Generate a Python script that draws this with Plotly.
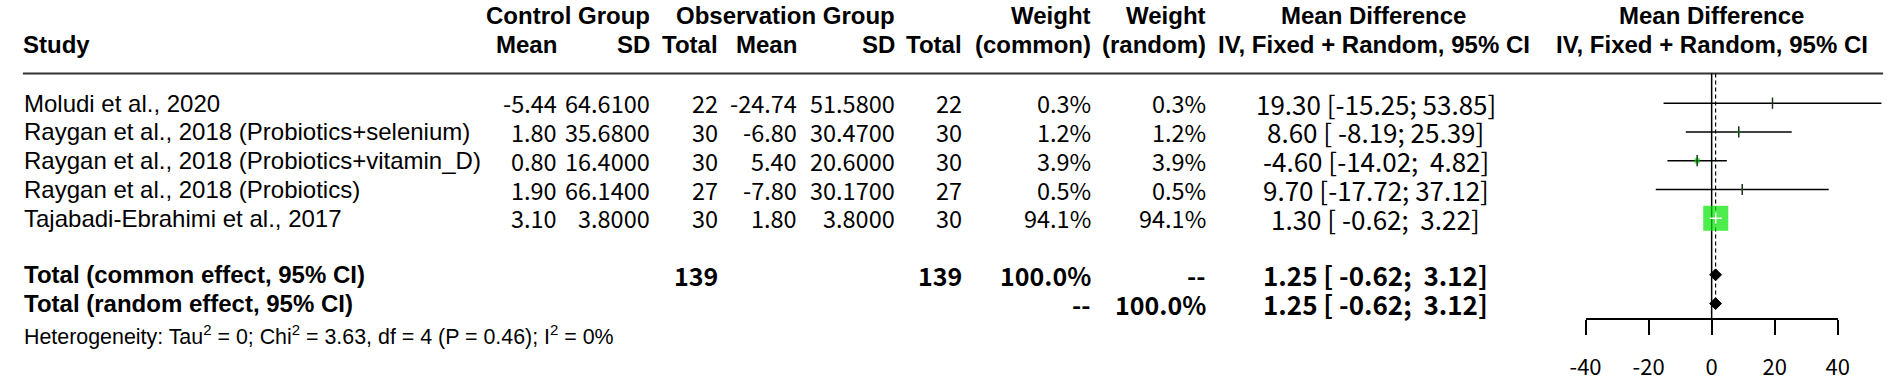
import math
import plotly.graph_objects as go

# ---------------- data ----------------
studies = ["Moludi et al., 2020",
           "Raygan et al., 2018 (Probiotics+selenium)",
           "Raygan et al., 2018 (Probiotics+vitamin_D)",
           "Raygan et al., 2018 (Probiotics)",
           "Tajabadi-Ebrahimi et al., 2017"]
ctrl_mean = [-5.44, 1.80, 0.80, 1.90, 3.10]
ctrl_sd = [64.61, 35.68, 16.40, 66.14, 3.80]
ctrl_n = [22, 30, 30, 27, 30]
obs_mean = [-24.74, -6.80, 5.40, -7.80, 1.80]
obs_sd = [51.58, 30.47, 20.60, 30.17, 3.80]
obs_n = [22, 30, 30, 27, 30]
w_common = [0.3, 1.2, 3.9, 0.5, 94.1]
w_random = [0.3, 1.2, 3.9, 0.5, 94.1]
md = [19.30, 8.60, -4.60, 9.70, 1.30]
ci_lo = [-15.25, -8.19, -14.02, -17.72, -0.62]
ci_hi = [53.85, 25.39, 4.82, 37.12, 3.22]

pooled_labels = ["Total (common effect, 95% CI)", "Total (random effect, 95% CI)"]
pooled_md = [1.25, 1.25]
pooled_lo = [-0.62, -0.62]
pooled_hi = [3.12, 3.12]
total_ctrl_n = 139
total_obs_n = 139
hetero = "Heterogeneity: Tau<sup>2</sup> = 0; Chi<sup>2</sup> = 3.63, df = 4 (P = 0.46); I<sup>2</sup> = 0%"
axis_ticks = [-40, -20, 0, 20, 40]

# ---------------- layout constants (pixels) ----------------
W, H = 1901, 381
LAT = "Liberation Sans, Arial, sans-serif"
NUM = "Noto Sans CJK SC, Source Sans Pro, sans-serif"
FS = 24      # label font size
NFS = 23.5   # number font size
MDFS = 26    # effect column font size
HDR1, HDR2, RULE = 16, 45, 74
ROW0, ROWH = 104, 29
AX_Y = 322
X0_PX, PX_PER_UNIT = 1721, 3.2
AX_L, AX_R = X0_PX - 40 * PX_PER_UNIT, X0_PX + 40 * PX_PER_UNIT

col = dict(ctrl_mean=549, ctrl_sd=643, ctrl_n=712, obs_mean=793, obs_sd=892,
           obs_n=960, w_c=1091, w_r=1208, md=1380, forest=1721)

rows = [ROW0 + ROWH * i for i in range(len(studies))]
pool_rows = [ROW0 + ROWH * (len(studies) + 1) - 1, ROW0 + ROWH * (len(studies) + 2) - 1]
het_row = 338

NB = "\u00a0"


def fmt_ci(m, lo, hi):
    return (f"{m:.2f} [{lo:6.2f}; {hi:5.2f}]").replace(" ", NB)


ann = []


def txt(x, y, s, anchor="right", font=NUM, size=NFS, bold=False):
    if bold:
        s = f"<b>{s}</b>"
    ann.append(dict(x=x, y=y, xref="x", yref="y", text=s, showarrow=False,
                    xanchor=anchor, yanchor="middle", borderpad=0, borderwidth=0,
                    font=dict(family=font, size=size, color="black")))


# headers
txt(7, HDR2, "Study", "left", LAT, FS, True)
txt(col["ctrl_sd"], HDR1, "Control Group", "right", LAT, FS, True)
txt(col["ctrl_mean"], HDR2, "Mean", "right", LAT, FS, True)
txt(col["ctrl_sd"], HDR2, "SD", "right", LAT, FS, True)
txt(col["ctrl_n"], HDR2, "Total", "right", LAT, FS, True)
txt(col["obs_sd"], HDR1, "Observation Group", "right", LAT, FS, True)
txt(col["obs_mean"], HDR2, "Mean", "right", LAT, FS, True)
txt(col["obs_sd"], HDR2, "SD", "right", LAT, FS, True)
txt(col["obs_n"], HDR2, "Total", "right", LAT, FS, True)
txt(col["w_c"], HDR1, "Weight", "right", LAT, FS, True)
txt(col["w_c"], HDR2, "(common)", "right", LAT, FS, True)
txt(col["w_r"], HDR1, "Weight", "right", LAT, FS, True)
txt(col["w_r"], HDR2, "(random)", "right", LAT, FS, True)
txt(1378, HDR1, "Mean Difference", "center", LAT, FS, True)
txt(1378, HDR2, "IV, Fixed + Random, 95% CI", "center", LAT, FS, True)
txt(col["forest"], HDR1, "Mean Difference", "center", LAT, FS, True)
txt(col["forest"], HDR2, "IV, Fixed + Random, 95% CI", "center", LAT, FS, True)

# study rows
for i, y in enumerate(rows):
    txt(8, y, studies[i], "left", LAT, FS)
    txt(col["ctrl_mean"], y, f"{ctrl_mean[i]:.2f}")
    txt(col["ctrl_sd"], y, f"{ctrl_sd[i]:.4f}")
    txt(col["ctrl_n"], y, f"{ctrl_n[i]}")
    txt(col["obs_mean"], y, f"{obs_mean[i]:.2f}")
    txt(col["obs_sd"], y, f"{obs_sd[i]:.4f}")
    txt(col["obs_n"], y, f"{obs_n[i]}")
    txt(col["w_c"], y, f"{w_common[i]:.1f}%")
    txt(col["w_r"], y, f"{w_random[i]:.1f}%")
    txt(col["md"], y, fmt_ci(md[i], ci_lo[i], ci_hi[i]), "center", size=MDFS)

# pooled rows
for j, y in enumerate(pool_rows):
    txt(8, y, pooled_labels[j], "left", LAT, FS, True)
    txt(col["md"], y, fmt_ci(pooled_md[j], pooled_lo[j], pooled_hi[j]), "center", size=MDFS, bold=True)
txt(col["ctrl_n"], pool_rows[0], f"{total_ctrl_n}", size=25, bold=True)
txt(col["obs_n"], pool_rows[0], f"{total_obs_n}", size=25, bold=True)
txt(col["w_c"], pool_rows[0], f"{sum(w_common):.1f}%", size=25, bold=True)
txt(col["w_r"], pool_rows[0], "--", size=25, bold=True)
txt(col["w_c"], pool_rows[1], "--", size=25, bold=True)
txt(col["w_r"], pool_rows[1], f"{sum(w_random):.1f}%", size=25, bold=True)
txt(8, het_row, hetero, "left", LAT, 21.4)

fig = go.Figure()

# header rule (on pixel axis)
fig.add_trace(go.Scatter(x=[7, 1895], y=[RULE, RULE], mode="lines",
                         line=dict(color="#333333", width=2), hoverinfo="skip",
                         xaxis="x", yaxis="y"))

# reference lines on forest axis
fig.add_trace(go.Scatter(x=[0, 0], y=[RULE, AX_Y], mode="lines",
                         line=dict(color="black", width=1.5), xaxis="x2", yaxis="y"))
fig.add_trace(go.Scatter(x=[pooled_md[0], pooled_md[0]], y=[RULE, pool_rows[1] + 7], mode="lines",
                         line=dict(color="black", width=1.2, dash="4px,3px"), xaxis="x2", yaxis="y"))

# square sizes (area proportional to weight)
max_w = max(w_common)
side = [25 * math.sqrt(w / max_w) for w in w_common]
inside = [side[i] / 2 / PX_PER_UNIT > max(md[i] - ci_lo[i], ci_hi[i] - md[i]) for i in range(len(md))]

cx, cy, wx, wy = [], [], [], []
for i, y in enumerate(rows):
    if inside[i]:
        wx += [ci_lo[i], ci_hi[i], None]
        wy += [y, y, None]
    else:
        cx += [ci_lo[i], ci_hi[i], None]
        cy += [y, y, None]

fig.add_trace(go.Scatter(x=cx, y=cy, mode="lines", line=dict(color="black", width=1.5),
                         xaxis="x2", yaxis="y"))
fig.add_trace(go.Scatter(x=md, y=rows, mode="markers",
                         marker=dict(symbol="square", size=side, color="#00e600",
                                     line=dict(width=0)),
                         xaxis="x2", yaxis="y"))
fig.add_trace(go.Scatter(x=wx, y=wy, mode="lines", line=dict(color="white", width=1.5),
                         xaxis="x2", yaxis="y"))
fig.add_trace(go.Scatter(x=md, y=rows, mode="markers",
                         marker=dict(symbol="line-ns", size=8,
                                     line=dict(width=1.5,
                                               color=["white" if f else "#1a331a" for f in inside])),
                         xaxis="x2", yaxis="y"))

# diamonds
for j, y in enumerate(pool_rows):
    fig.add_trace(go.Scatter(x=[pooled_lo[j], pooled_md[j], pooled_hi[j], pooled_md[j], pooled_lo[j]],
                             y=[y, y - 6, y, y + 6, y], mode="lines", fill="toself",
                             fillcolor="black", line=dict(color="black", width=1),
                             xaxis="x2", yaxis="y"))

# invisible trace to activate tick axis
fig.add_trace(go.Scatter(x=axis_ticks, y=[AX_Y] * len(axis_ticks), mode="markers",
                         marker=dict(opacity=0), xaxis="x3", yaxis="y", hoverinfo="skip"))

fig.update_layout(
    width=W, height=H, margin=dict(l=0, r=0, t=0, b=0, pad=0),
    paper_bgcolor="white", plot_bgcolor="rgba(0,0,0,0)",
    showlegend=False, annotations=ann,
    xaxis=dict(range=[0, W], domain=[0, 1], visible=False, fixedrange=True),
    yaxis=dict(range=[H, 0], domain=[0, 1], visible=False, fixedrange=True),
    xaxis2=dict(range=[-X0_PX / PX_PER_UNIT, (W - X0_PX) / PX_PER_UNIT], domain=[0, 1],
                overlaying="x", anchor="y", visible=False),
    xaxis3=dict(range=[-40, 40], domain=[AX_L / W, AX_R / W],
                anchor="free", position=1 - AX_Y / H,
                showline=True, linecolor="black", linewidth=1.5,
                ticks="outside", ticklen=15, tickwidth=1.5, tickcolor="black",
                tickvals=axis_ticks, ticktext=[str(t) for t in axis_ticks],
                tickfont=dict(family=NUM, size=22, color="black"),
                ticklabelstandoff=13,
                showgrid=False, zeroline=False),
)

fig.write_html("out.html", config={"displayModeBar": False},
               post_script="document.body.style.margin='0';")
